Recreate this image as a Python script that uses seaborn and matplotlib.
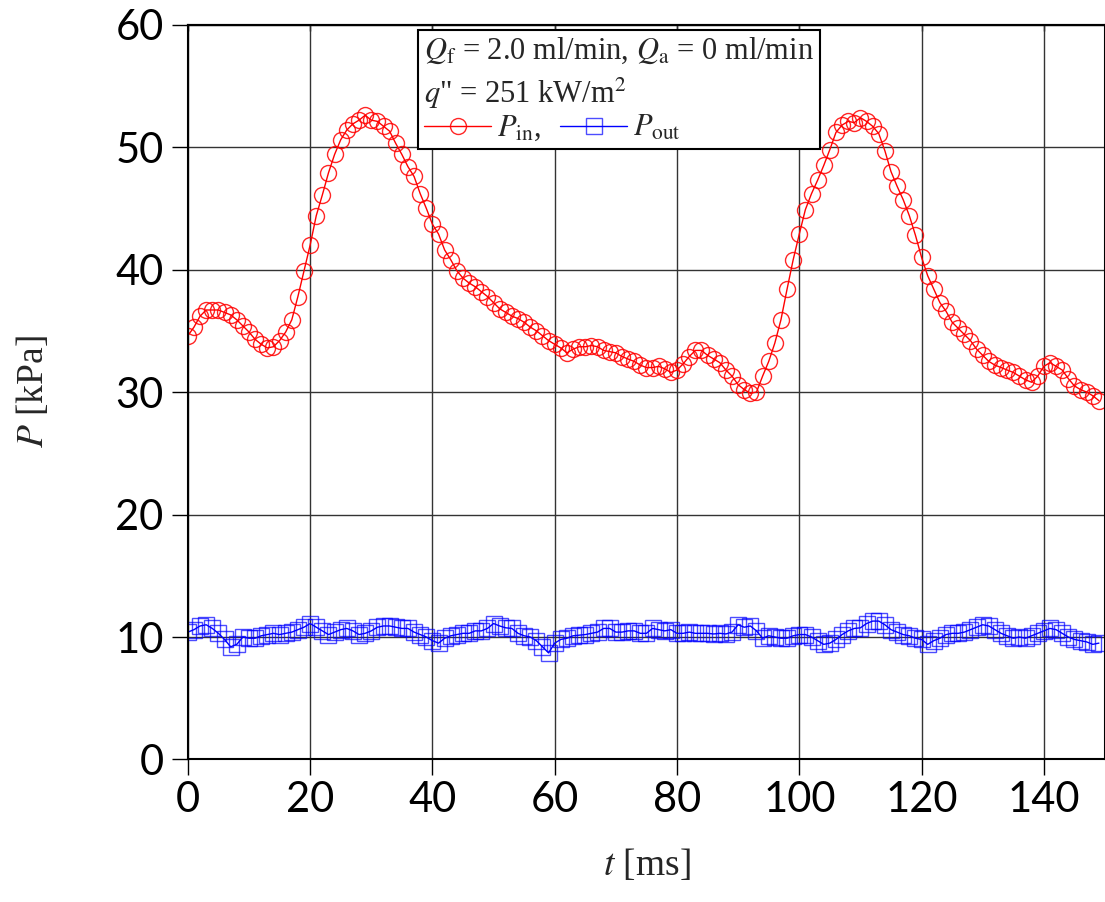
import numpy as np
import pandas as pd
import matplotlib
matplotlib.use("Agg")
import matplotlib.pyplot as plt
import seaborn as sns

# ---- data (1 ms sampling) ----
t_ms = list(range(150))

p_in = [34.6, 35.3, 36.2, 36.7, 36.7, 36.7, 36.5, 36.3, 35.9, 35.4,
        34.9, 34.3, 33.9, 33.6, 33.7, 34.2, 34.9, 35.9, 37.8, 39.9,
        42.0, 44.4, 46.1, 47.9, 49.4, 50.6, 51.4, 51.9, 52.2, 52.6,
        52.2, 52.1, 51.7, 51.3, 50.3, 49.4, 48.4, 47.6, 46.2, 45.0,
        43.7, 42.9, 41.6, 40.8, 39.9, 39.3, 38.9, 38.6, 38.2, 37.8,
        37.3, 36.8, 36.5, 36.2, 36.0, 35.7, 35.3, 35.0, 34.6, 34.2,
        33.9, 33.6, 33.2, 33.5, 33.7, 33.7, 33.8, 33.7, 33.4, 33.3,
        33.2, 32.9, 32.7, 32.5, 32.2, 32.0, 32.0, 32.1, 31.9, 31.6,
        31.8, 32.3, 32.9, 33.4, 33.4, 33.0, 32.7, 32.4, 31.8, 31.3,
        30.6, 30.2, 29.9, 30.0, 31.3, 32.5, 34.0, 35.9, 38.4, 40.8,
        42.9, 44.9, 46.2, 47.3, 48.5, 49.8, 51.2, 51.8, 52.1, 52.0,
        52.4, 52.1, 51.7, 51.1, 49.7, 48.0, 46.8, 45.7, 44.4, 42.8,
        41.0, 39.5, 38.4, 37.3, 36.6, 35.7, 35.2, 34.7, 34.2, 33.5,
        33.0, 32.5, 32.2, 32.0, 31.8, 31.6, 31.3, 31.0, 30.8, 31.3,
        32.1, 32.4, 32.1, 31.8, 31.1, 30.5, 30.2, 30.0, 29.7, 29.3]

p_out = [10.4, 10.6, 10.9, 11.0, 10.7, 10.3, 9.8, 9.2, 9.4, 10.0,
         9.9, 9.9, 10.1, 10.2, 10.3, 10.2, 10.3, 10.4, 10.6, 10.8,
         11.1, 10.8, 10.5, 10.2, 10.4, 10.6, 10.7, 10.5, 10.2, 10.3,
         10.5, 10.8, 10.9, 10.9, 10.8, 10.7, 10.7, 10.4, 10.2, 10.0,
         9.7, 9.5, 9.9, 10.1, 10.2, 10.3, 10.3, 10.5, 10.5, 10.7,
         11.1, 10.9, 10.75, 10.7, 10.3, 10.1, 10.0, 9.7, 9.2, 8.7,
         9.5, 9.8, 9.9, 10.1, 10.15, 10.2, 10.3, 10.4, 10.7, 10.7,
         10.4, 10.4, 10.5, 10.5, 10.3, 10.3, 10.7, 10.6, 10.5, 10.6,
         10.3, 10.3, 10.4, 10.3, 10.3, 10.3, 10.25, 10.3, 10.25, 10.4,
         11.0, 10.8, 10.9, 10.5, 9.9, 10.1, 10.0, 9.9, 9.9, 10.1,
         10.2, 10.2, 10.0, 9.7, 9.4, 9.5, 9.8, 10.2, 10.5, 10.7,
         10.75, 11.1, 11.3, 11.3, 11.0, 10.6, 10.4, 10.2, 10.1, 9.9,
         9.8, 9.4, 9.7, 9.9, 10.2, 10.3, 10.3, 10.4, 10.6, 10.8,
         11.0, 10.9, 10.6, 10.3, 10.1, 9.9, 10.0, 9.9, 10.1, 10.3,
         10.5, 10.7, 10.6, 10.3, 10.0, 9.8, 9.7, 9.6, 9.4, 9.5]

x_ticks = [0, 20, 40, 60, 80, 100, 120, 140]
y_ticks = [0, 10, 20, 30, 40, 50, 60]

legend_title = ("$Q_\\mathrm{f}$ = 2.0 ml/min, $Q_\\mathrm{a}$ = 0 ml/min\n"
                "$q$\" = 251 kW/m$^2$")
label_in = "$P_\\mathrm{in}$,"
label_out = "$P_\\mathrm{out}$"

# ---- style ----
sns.set_theme(style="white")
plt.rcParams["font.family"] = ["Lato", "DejaVu Sans"]
plt.rcParams["mathtext.fontset"] = "stix"

df = pd.DataFrame({"t": t_ms, "P_in": p_in, "P_out": p_out})

fig = plt.figure(figsize=(11.05, 9.02), dpi=100)
ax = fig.add_axes([0.170, 0.158, 0.830, 0.8147])

sns.lineplot(data=df, x="t", y="P_in", ax=ax, color="#ff0000", lw=1.0,
             marker="o", markersize=11.5, markerfacecolor="none",
             markeredgecolor=(1, 0, 0, 0.85), markeredgewidth=1.0,
             label=label_in)
sns.lineplot(data=df, x="t", y="P_out", ax=ax, color="#0000ff", lw=1.0,
             marker="s", markersize=11.5, markerfacecolor="none",
             markeredgecolor=(0, 0, 1, 0.7), markeredgewidth=1.0,
             label=label_out)

ax.set_xlim(0, 150)
ax.set_ylim(0, 60)
ax.set_xticks(x_ticks)
ax.set_yticks(y_ticks)
ax.grid(True, color="#333333", lw=1.0)
for s in ax.spines.values():
    s.set_color("black")
    s.set_linewidth(1.5)

ax.tick_params(axis="both", bottom=True, left=True, direction="out",
               length=11.5, width=1.0, colors="black", labelsize=30, pad=4)
ax.tick_params(axis="y", pad=6)
top = ax.secondary_xaxis("top")
top.set_xticks(x_ticks)
top.tick_params(top=True, direction="in", length=4, width=1.0,
                labeltop=False, colors="black")
top.spines["top"].set_linewidth(1.5)

ax.set_xlabel("$t$ [ms]", fontsize=27, family=["Liberation Serif"], labelpad=20)
ax.set_ylabel("$P$ [kPa]", fontsize=27, family=["Liberation Serif"], labelpad=46)

leg = ax.legend(loc="upper left", bbox_to_anchor=(0.251, 0.993),
                borderaxespad=0, ncol=2, title=legend_title,
                prop={"family": "Liberation Serif", "size": 22},
                title_fontproperties={"family": "Liberation Serif", "size": 22},
                alignment="left", fancybox=False, edgecolor="black",
                framealpha=1, handlelength=2.2, handletextpad=0.2,
                columnspacing=0.6, borderpad=0.2, labelspacing=0.1)
leg.get_frame().set_linewidth(1.5)
leg.get_title().set_linespacing(1.35)

fig.savefig("out.png", dpi=100)
